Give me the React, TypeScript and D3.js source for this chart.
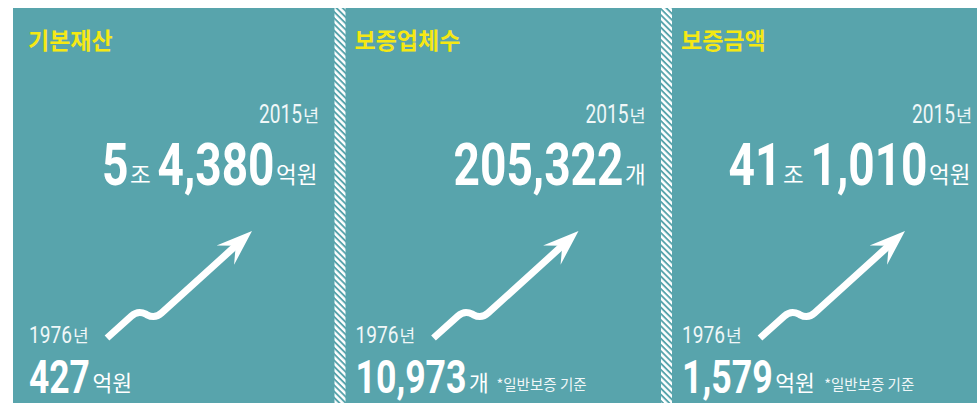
import React from 'react';
import * as d3 from 'd3';

// ---- data ----
const panelTitles = ['기본재산', '보증업체수', '보증금액'];
const endYear = '2015';
const startYear = '1976';
const yearUnit = '년';
// 2015 values: list of number parts with their units per panel
const endNumbers = [['5', '4,380'], ['205,322'], ['41', '1,010']];
const endUnits = [['조', '억원'], ['개'], ['조', '억원']];
// 1976 values
const startNumbers = ['427', '10,973', '1,579'];
const startUnits = ['억원', '개', '억원'];
const notes = ['', '*일반보증 기준', '*일반보증 기준'];
// trend arrow shape (relative to panel anchor)
const arrowPoints: [number, number][] = [[78, 338], [109, 310], [126, 319], [223, 231]];

const W = 977;
const H = 403;
const TEAL = '#58a4ac';
const YELLOW = '#f5e814';
const LIGHT = '#f0f7f8';
const NUM_FONT = 'Roboto, "Liberation Sans", sans-serif';
const KR_FONT = '"Noto Sans CJK KR", "Noto Sans", sans-serif';

function numWidth(s: string, d: number, c: number) {
  let w = 0;
  for (const ch of s) w += ch === ',' ? c : d;
  return w;
}

function roundedPath(pts: [number, number][], r: number) {
  const p = d3.path();
  p.moveTo(pts[0][0], pts[0][1]);
  for (let i = 1; i < pts.length - 1; i++) {
    const [px, py] = pts[i - 1];
    const [cx, cy] = pts[i];
    const [nx, ny] = pts[i + 1];
    const d1 = Math.hypot(px - cx, py - cy);
    const d2 = Math.hypot(nx - cx, ny - cy);
    const r1 = Math.min(r, d1 / 2);
    const r2 = Math.min(r, d2 / 2);
    const ax = cx + ((px - cx) / d1) * r1;
    const ay = cy + ((py - cy) / d1) * r1;
    const bx = cx + ((nx - cx) / d2) * r2;
    const by = cy + ((ny - cy) / d2) * r2;
    p.lineTo(ax, ay);
    p.quadraticCurveTo(cx, cy, bx, by);
  }
  const last = pts[pts.length - 1];
  p.lineTo(last[0], last[1]);
  return p.toString();
}

export default function App() {
  const idx = d3.range(panelTitles.length);
  const x = d3.scaleBand<number>().domain(idx).range([29, 29 + 326.5 * idx.length]).padding(0);
  const contentW = 291;

  return (
    <svg width={W} height={H} style={{ position: 'absolute', left: 0, top: 0 }}>
      <defs>
        <pattern id="hatch" width={4.4} height={10} patternUnits="userSpaceOnUse" patternTransform="rotate(-45)">
          <rect x={0} y={0} width={2.5} height={10} fill="#ffffff" />
        </pattern>
      </defs>
      <rect x={0} y={0} width={W} height={H} fill="#ffffff" />
      <rect x={13} y={8} width={W - 13} height={H - 8} fill={TEAL} />
      {idx.slice(1).map((i) => (
        <rect key={'s' + i} x={(x(i) as number) - 21} y={8} width={11} height={H - 8} fill="url(#hatch)" />
      ))}
      {idx.map((i) => {
        const L = x(i) as number;
        const R = L + contentW;

        // top value line, laid out right-aligned
        const d = 26.5, c = 11, uSize = 22.5;
        const nums = endNumbers[i];
        const units = endUnits[i];
        let total = 0;
        nums.forEach((n, k) => {
          total += numWidth(n, d, c) + 1.5 + units[k].length * uSize;
          if (k < nums.length - 1) total += 5;
        });
        let cx = R + 1 - total;
        const topItems: React.ReactNode[] = [];
        nums.forEach((n, k) => {
          const nw = numWidth(n, d, c);
          topItems.push(
            <text key={'n' + k} x={cx} y={185} fontFamily={NUM_FONT} fontWeight={700} fontSize={59}
              fill="#fff" textLength={nw} lengthAdjust="spacingAndGlyphs">{n}</text>
          );
          cx += nw + 1.5;
          topItems.push(
            <text key={'u' + k} x={cx} y={183} fontFamily={KR_FONT} fontSize={uSize} fill="#fff">{units[k]}</text>
          );
          cx += units[k].length * uSize + 5;
        });

        // bottom
        const bd = 20.3, bc = 9.5, bu = 21.5;
        const bnw = numWidth(startNumbers[i], bd, bc);
        const bUnitX = L + bnw + 2.5;
        const noteX = bUnitX + startUnits[i].length * bu + 6;

        // arrow
        const pts = arrowPoints.map(([px, py]) => [L + px, py] as [number, number]);
        const tip = pts[pts.length - 1];
        const prev = pts[pts.length - 2];
        const len = Math.hypot(tip[0] - prev[0], tip[1] - prev[1]);
        const ux = (tip[0] - prev[0]) / len, uy = (tip[1] - prev[1]) / len;
        const nx = -uy, ny = ux;
        const notch: [number, number] = [tip[0] - 22 * ux, tip[1] - 22 * uy];
        const shaft = [...pts.slice(0, -1), [notch[0] + 2 * ux, notch[1] + 2 * uy] as [number, number]];
        const head = [
          tip,
          [tip[0] - 36 * ux + 13 * nx, tip[1] - 36 * uy + 13 * ny],
          notch,
          [tip[0] - 36 * ux - 13 * nx, tip[1] - 36 * uy - 13 * ny],
        ];

        return (
          <g key={i}>
            <text x={L - 1} y={49} fontFamily={KR_FONT} fontWeight={700} fontSize={23} fill={YELLOW}>{panelTitles[i]}</text>
            <text x={R - 17 - 44} y={123} fontFamily={NUM_FONT} fontWeight={400} fontSize={25} fill={LIGHT}
              textLength={43} lengthAdjust="spacingAndGlyphs">{endYear}</text>
            <text x={R - 17} y={122} fontFamily={KR_FONT} fontSize={17.5} fill={LIGHT}>{yearUnit}</text>
            {topItems}
            <path d={roundedPath(shaft, 9)} fill="none" stroke="#fff" strokeWidth={7} strokeLinejoin="round" />
            <path d={d3.line()(head as [number, number][]) + 'Z'} fill="#fff" />
            <text x={L} y={343} fontFamily={NUM_FONT} fontWeight={400} fontSize={23} fill={LIGHT}
              textLength={43} lengthAdjust="spacingAndGlyphs">{startYear}</text>
            <text x={L + 44} y={342} fontFamily={KR_FONT} fontSize={17} fill={LIGHT}>{yearUnit}</text>
            <text x={L} y={393} fontFamily={NUM_FONT} fontWeight={700} fontSize={46} fill="#fff"
              textLength={bnw} lengthAdjust="spacingAndGlyphs">{startNumbers[i]}</text>
            <text x={bUnitX} y={391} fontFamily={KR_FONT} fontSize={bu} fill="#fff">{startUnits[i]}</text>
            {notes[i] && (
              <text x={noteX} y={390} fontFamily={KR_FONT} fontSize={14.5} fill={LIGHT}>{notes[i]}</text>
            )}
          </g>
        );
      })}
    </svg>
  );
}
